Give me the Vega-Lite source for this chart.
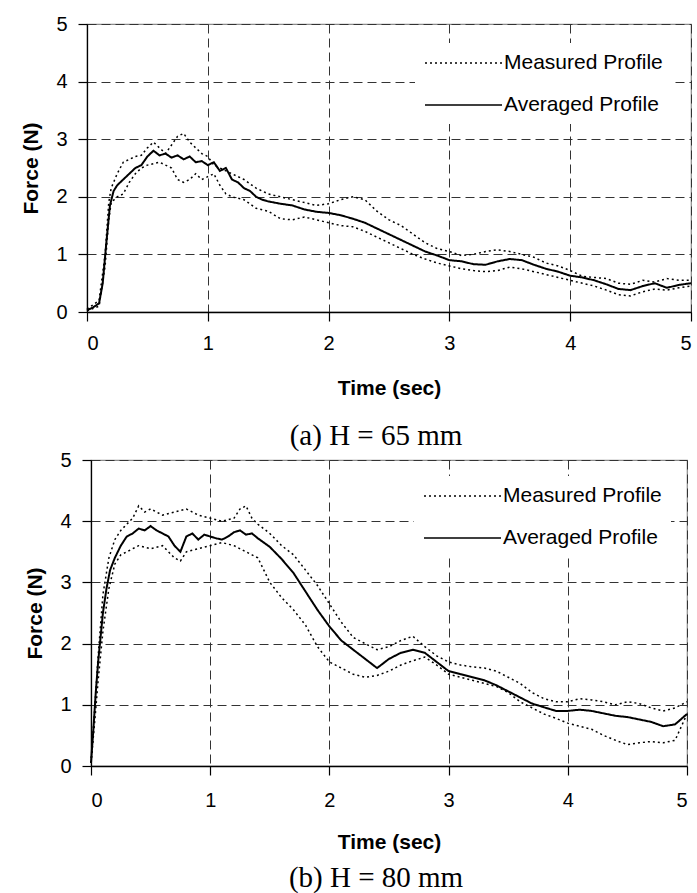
{
  "$schema": "https://vega.github.io/schema/vega-lite/v6.json",
  "padding": {"left": 20, "top": 13, "right": 2, "bottom": 0},
  "background": "white",
  "bounds": "flush",
  "center": true,
  "spacing": 148,
  "config": {
    "font": "Liberation Sans",
    "view": {"stroke": "#8c8c8c", "strokeWidth": 1.2},
    "axis": {
      "domainColor": "#000", "domainWidth": 1.3, "tickColor": "#000", "tickSize": 9, "tickWidth": 1.2,
      "labelFontSize": 20, "labelColor": "#000", "labelPadding": 11,
      "titleFontSize": 21, "titleFontWeight": "bold", "titleColor": "#000",
      "grid": true, "gridColor": "#333", "gridDash": [9, 5], "gridWidth": 1, "gridOpacity": 1
    },
    "legend": {
      "orient": "top-right", "fillColor": "white", "padding": 9,
      "symbolType": "M-1,0H6.7", "symbolSize": 400, "symbolStrokeColor": "#000", "symbolStrokeWidth": 1.6,
      "labelFontSize": 21, "labelColor": "#000", "labelOffset": 58, "rowPadding": 21, "title": null
    }
  },
  "resolve": {"legend": {"strokeDash": "independent"}},
  "datasets": {
    "a": [
      {"s":"Averaged Profile","r":"avg","t":0,"f":0.03},{"s":"Averaged Profile","r":"avg","t":0.05,"f":0.08},{"s":"Averaged Profile","r":"avg","t":0.1,"f":0.15},{"s":"Averaged Profile","r":"avg","t":0.13,"f":0.5},{"s":"Averaged Profile","r":"avg","t":0.16,"f":1.2},{"s":"Averaged Profile","r":"avg","t":0.19,"f":1.85},{"s":"Averaged Profile","r":"avg","t":0.22,"f":2.1},{"s":"Averaged Profile","r":"avg","t":0.25,"f":2.2},{"s":"Averaged Profile","r":"avg","t":0.3,"f":2.3},{"s":"Averaged Profile","r":"avg","t":0.35,"f":2.4},{"s":"Averaged Profile","r":"avg","t":0.4,"f":2.5},{"s":"Averaged Profile","r":"avg","t":0.45,"f":2.55},{"s":"Averaged Profile","r":"avg","t":0.5,"f":2.7},{"s":"Averaged Profile","r":"avg","t":0.55,"f":2.8},{"s":"Averaged Profile","r":"avg","t":0.6,"f":2.72},{"s":"Averaged Profile","r":"avg","t":0.65,"f":2.75},{"s":"Averaged Profile","r":"avg","t":0.7,"f":2.68},{"s":"Averaged Profile","r":"avg","t":0.75,"f":2.72},{"s":"Averaged Profile","r":"avg","t":0.8,"f":2.65},{"s":"Averaged Profile","r":"avg","t":0.85,"f":2.7},{"s":"Averaged Profile","r":"avg","t":0.9,"f":2.6},{"s":"Averaged Profile","r":"avg","t":0.95,"f":2.62},{"s":"Averaged Profile","r":"avg","t":1.0,"f":2.55},{"s":"Averaged Profile","r":"avg","t":1.05,"f":2.6},{"s":"Averaged Profile","r":"avg","t":1.1,"f":2.45},{"s":"Averaged Profile","r":"avg","t":1.15,"f":2.5},{"s":"Averaged Profile","r":"avg","t":1.2,"f":2.3},{"s":"Averaged Profile","r":"avg","t":1.25,"f":2.25},{"s":"Averaged Profile","r":"avg","t":1.3,"f":2.15},{"s":"Averaged Profile","r":"avg","t":1.35,"f":2.1},{"s":"Averaged Profile","r":"avg","t":1.4,"f":2.0},{"s":"Averaged Profile","r":"avg","t":1.45,"f":1.95},{"s":"Averaged Profile","r":"avg","t":1.5,"f":1.92},{"s":"Averaged Profile","r":"avg","t":1.6,"f":1.88},{"s":"Averaged Profile","r":"avg","t":1.7,"f":1.85},{"s":"Averaged Profile","r":"avg","t":1.8,"f":1.78},{"s":"Averaged Profile","r":"avg","t":1.9,"f":1.74},{"s":"Averaged Profile","r":"avg","t":2.0,"f":1.72},{"s":"Averaged Profile","r":"avg","t":2.1,"f":1.68},{"s":"Averaged Profile","r":"avg","t":2.2,"f":1.62},{"s":"Averaged Profile","r":"avg","t":2.3,"f":1.55},{"s":"Averaged Profile","r":"avg","t":2.4,"f":1.45},{"s":"Averaged Profile","r":"avg","t":2.5,"f":1.35},{"s":"Averaged Profile","r":"avg","t":2.6,"f":1.25},{"s":"Averaged Profile","r":"avg","t":2.7,"f":1.15},{"s":"Averaged Profile","r":"avg","t":2.8,"f":1.05},{"s":"Averaged Profile","r":"avg","t":2.9,"f":0.98},{"s":"Averaged Profile","r":"avg","t":3.0,"f":0.9},{"s":"Averaged Profile","r":"avg","t":3.1,"f":0.88},{"s":"Averaged Profile","r":"avg","t":3.2,"f":0.83},{"s":"Averaged Profile","r":"avg","t":3.3,"f":0.82},{"s":"Averaged Profile","r":"avg","t":3.4,"f":0.88},{"s":"Averaged Profile","r":"avg","t":3.5,"f":0.92},{"s":"Averaged Profile","r":"avg","t":3.6,"f":0.9},{"s":"Averaged Profile","r":"avg","t":3.7,"f":0.82},{"s":"Averaged Profile","r":"avg","t":3.8,"f":0.75},{"s":"Averaged Profile","r":"avg","t":3.9,"f":0.7},{"s":"Averaged Profile","r":"avg","t":4.0,"f":0.63},{"s":"Averaged Profile","r":"avg","t":4.1,"f":0.6},{"s":"Averaged Profile","r":"avg","t":4.2,"f":0.55},{"s":"Averaged Profile","r":"avg","t":4.3,"f":0.48},{"s":"Averaged Profile","r":"avg","t":4.4,"f":0.4},{"s":"Averaged Profile","r":"avg","t":4.5,"f":0.38},{"s":"Averaged Profile","r":"avg","t":4.6,"f":0.45},{"s":"Averaged Profile","r":"avg","t":4.7,"f":0.5},{"s":"Averaged Profile","r":"avg","t":4.8,"f":0.42},{"s":"Averaged Profile","r":"avg","t":4.9,"f":0.47},{"s":"Averaged Profile","r":"avg","t":5.0,"f":0.5},
      {"s":"Measured Profile","r":"m1","t":0,"f":0.05},{"s":"Measured Profile","r":"m1","t":0.1,"f":0.2},{"s":"Measured Profile","r":"m1","t":0.15,"f":1.0},{"s":"Measured Profile","r":"m1","t":0.18,"f":1.9},{"s":"Measured Profile","r":"m1","t":0.2,"f":2.15},{"s":"Measured Profile","r":"m1","t":0.25,"f":2.4},{"s":"Measured Profile","r":"m1","t":0.3,"f":2.6},{"s":"Measured Profile","r":"m1","t":0.35,"f":2.65},{"s":"Measured Profile","r":"m1","t":0.4,"f":2.7},{"s":"Measured Profile","r":"m1","t":0.45,"f":2.72},{"s":"Measured Profile","r":"m1","t":0.5,"f":2.85},{"s":"Measured Profile","r":"m1","t":0.55,"f":2.95},{"s":"Measured Profile","r":"m1","t":0.6,"f":2.85},{"s":"Measured Profile","r":"m1","t":0.65,"f":2.75},{"s":"Measured Profile","r":"m1","t":0.7,"f":2.9},{"s":"Measured Profile","r":"m1","t":0.75,"f":3.05},{"s":"Measured Profile","r":"m1","t":0.8,"f":3.1},{"s":"Measured Profile","r":"m1","t":0.85,"f":2.95},{"s":"Measured Profile","r":"m1","t":0.9,"f":2.85},{"s":"Measured Profile","r":"m1","t":0.95,"f":2.75},{"s":"Measured Profile","r":"m1","t":1.0,"f":2.7},{"s":"Measured Profile","r":"m1","t":1.05,"f":2.55},{"s":"Measured Profile","r":"m1","t":1.1,"f":2.5},{"s":"Measured Profile","r":"m1","t":1.2,"f":2.4},{"s":"Measured Profile","r":"m1","t":1.3,"f":2.3},{"s":"Measured Profile","r":"m1","t":1.4,"f":2.15},{"s":"Measured Profile","r":"m1","t":1.5,"f":2.05},{"s":"Measured Profile","r":"m1","t":1.6,"f":2.0},{"s":"Measured Profile","r":"m1","t":1.7,"f":1.95},{"s":"Measured Profile","r":"m1","t":1.8,"f":1.9},{"s":"Measured Profile","r":"m1","t":1.9,"f":1.85},{"s":"Measured Profile","r":"m1","t":2.0,"f":1.88},{"s":"Measured Profile","r":"m1","t":2.1,"f":1.95},{"s":"Measured Profile","r":"m1","t":2.2,"f":2.0},{"s":"Measured Profile","r":"m1","t":2.3,"f":1.95},{"s":"Measured Profile","r":"m1","t":2.4,"f":1.75},{"s":"Measured Profile","r":"m1","t":2.5,"f":1.6},{"s":"Measured Profile","r":"m1","t":2.6,"f":1.5},{"s":"Measured Profile","r":"m1","t":2.7,"f":1.35},{"s":"Measured Profile","r":"m1","t":2.8,"f":1.2},{"s":"Measured Profile","r":"m1","t":2.9,"f":1.1},{"s":"Measured Profile","r":"m1","t":3.0,"f":1.05},{"s":"Measured Profile","r":"m1","t":3.1,"f":0.98},{"s":"Measured Profile","r":"m1","t":3.2,"f":1.0},{"s":"Measured Profile","r":"m1","t":3.3,"f":1.05},{"s":"Measured Profile","r":"m1","t":3.4,"f":1.08},{"s":"Measured Profile","r":"m1","t":3.5,"f":1.05},{"s":"Measured Profile","r":"m1","t":3.6,"f":1.0},{"s":"Measured Profile","r":"m1","t":3.7,"f":0.95},{"s":"Measured Profile","r":"m1","t":3.8,"f":0.85},{"s":"Measured Profile","r":"m1","t":3.9,"f":0.8},{"s":"Measured Profile","r":"m1","t":4.0,"f":0.72},{"s":"Measured Profile","r":"m1","t":4.1,"f":0.62},{"s":"Measured Profile","r":"m1","t":4.2,"f":0.6},{"s":"Measured Profile","r":"m1","t":4.3,"f":0.58},{"s":"Measured Profile","r":"m1","t":4.4,"f":0.5},{"s":"Measured Profile","r":"m1","t":4.5,"f":0.48},{"s":"Measured Profile","r":"m1","t":4.6,"f":0.55},{"s":"Measured Profile","r":"m1","t":4.7,"f":0.52},{"s":"Measured Profile","r":"m1","t":4.8,"f":0.58},{"s":"Measured Profile","r":"m1","t":4.9,"f":0.55},{"s":"Measured Profile","r":"m1","t":5.0,"f":0.55},
      {"s":"Measured Profile","r":"m2","t":0,"f":0.02},{"s":"Measured Profile","r":"m2","t":0.1,"f":0.1},{"s":"Measured Profile","r":"m2","t":0.15,"f":0.8},{"s":"Measured Profile","r":"m2","t":0.18,"f":1.6},{"s":"Measured Profile","r":"m2","t":0.2,"f":1.9},{"s":"Measured Profile","r":"m2","t":0.25,"f":2.0},{"s":"Measured Profile","r":"m2","t":0.3,"f":2.05},{"s":"Measured Profile","r":"m2","t":0.35,"f":2.25},{"s":"Measured Profile","r":"m2","t":0.4,"f":2.4},{"s":"Measured Profile","r":"m2","t":0.45,"f":2.5},{"s":"Measured Profile","r":"m2","t":0.5,"f":2.55},{"s":"Measured Profile","r":"m2","t":0.6,"f":2.6},{"s":"Measured Profile","r":"m2","t":0.7,"f":2.5},{"s":"Measured Profile","r":"m2","t":0.75,"f":2.3},{"s":"Measured Profile","r":"m2","t":0.8,"f":2.25},{"s":"Measured Profile","r":"m2","t":0.85,"f":2.3},{"s":"Measured Profile","r":"m2","t":0.9,"f":2.4},{"s":"Measured Profile","r":"m2","t":0.95,"f":2.3},{"s":"Measured Profile","r":"m2","t":1.0,"f":2.35},{"s":"Measured Profile","r":"m2","t":1.05,"f":2.4},{"s":"Measured Profile","r":"m2","t":1.1,"f":2.2},{"s":"Measured Profile","r":"m2","t":1.15,"f":2.05},{"s":"Measured Profile","r":"m2","t":1.2,"f":2.0},{"s":"Measured Profile","r":"m2","t":1.3,"f":1.95},{"s":"Measured Profile","r":"m2","t":1.4,"f":1.8},{"s":"Measured Profile","r":"m2","t":1.5,"f":1.75},{"s":"Measured Profile","r":"m2","t":1.6,"f":1.62},{"s":"Measured Profile","r":"m2","t":1.7,"f":1.6},{"s":"Measured Profile","r":"m2","t":1.8,"f":1.65},{"s":"Measured Profile","r":"m2","t":1.9,"f":1.6},{"s":"Measured Profile","r":"m2","t":2.0,"f":1.55},{"s":"Measured Profile","r":"m2","t":2.1,"f":1.5},{"s":"Measured Profile","r":"m2","t":2.2,"f":1.48},{"s":"Measured Profile","r":"m2","t":2.3,"f":1.4},{"s":"Measured Profile","r":"m2","t":2.4,"f":1.3},{"s":"Measured Profile","r":"m2","t":2.5,"f":1.2},{"s":"Measured Profile","r":"m2","t":2.6,"f":1.1},{"s":"Measured Profile","r":"m2","t":2.7,"f":1.0},{"s":"Measured Profile","r":"m2","t":2.8,"f":0.92},{"s":"Measured Profile","r":"m2","t":2.9,"f":0.85},{"s":"Measured Profile","r":"m2","t":3.0,"f":0.8},{"s":"Measured Profile","r":"m2","t":3.1,"f":0.75},{"s":"Measured Profile","r":"m2","t":3.2,"f":0.72},{"s":"Measured Profile","r":"m2","t":3.3,"f":0.7},{"s":"Measured Profile","r":"m2","t":3.4,"f":0.72},{"s":"Measured Profile","r":"m2","t":3.5,"f":0.78},{"s":"Measured Profile","r":"m2","t":3.6,"f":0.75},{"s":"Measured Profile","r":"m2","t":3.7,"f":0.7},{"s":"Measured Profile","r":"m2","t":3.8,"f":0.65},{"s":"Measured Profile","r":"m2","t":3.9,"f":0.6},{"s":"Measured Profile","r":"m2","t":4.0,"f":0.55},{"s":"Measured Profile","r":"m2","t":4.1,"f":0.5},{"s":"Measured Profile","r":"m2","t":4.2,"f":0.45},{"s":"Measured Profile","r":"m2","t":4.3,"f":0.38},{"s":"Measured Profile","r":"m2","t":4.4,"f":0.3},{"s":"Measured Profile","r":"m2","t":4.5,"f":0.28},{"s":"Measured Profile","r":"m2","t":4.6,"f":0.35},{"s":"Measured Profile","r":"m2","t":4.7,"f":0.4},{"s":"Measured Profile","r":"m2","t":4.8,"f":0.38},{"s":"Measured Profile","r":"m2","t":4.9,"f":0.42},{"s":"Measured Profile","r":"m2","t":5.0,"f":0.45}
    ],
    "b": [
      {"s":"Averaged Profile","r":"avg","t":0,"f":0.05},{"s":"Averaged Profile","r":"avg","t":0.02,"f":0.6},{"s":"Averaged Profile","r":"avg","t":0.04,"f":1.2},{"s":"Averaged Profile","r":"avg","t":0.06,"f":1.7},{"s":"Averaged Profile","r":"avg","t":0.08,"f":2.1},{"s":"Averaged Profile","r":"avg","t":0.1,"f":2.5},{"s":"Averaged Profile","r":"avg","t":0.13,"f":2.9},{"s":"Averaged Profile","r":"avg","t":0.16,"f":3.2},{"s":"Averaged Profile","r":"avg","t":0.2,"f":3.4},{"s":"Averaged Profile","r":"avg","t":0.25,"f":3.6},{"s":"Averaged Profile","r":"avg","t":0.3,"f":3.75},{"s":"Averaged Profile","r":"avg","t":0.35,"f":3.8},{"s":"Averaged Profile","r":"avg","t":0.4,"f":3.88},{"s":"Averaged Profile","r":"avg","t":0.45,"f":3.85},{"s":"Averaged Profile","r":"avg","t":0.5,"f":3.92},{"s":"Averaged Profile","r":"avg","t":0.55,"f":3.85},{"s":"Averaged Profile","r":"avg","t":0.6,"f":3.8},{"s":"Averaged Profile","r":"avg","t":0.65,"f":3.75},{"s":"Averaged Profile","r":"avg","t":0.7,"f":3.6},{"s":"Averaged Profile","r":"avg","t":0.75,"f":3.5},{"s":"Averaged Profile","r":"avg","t":0.8,"f":3.75},{"s":"Averaged Profile","r":"avg","t":0.85,"f":3.8},{"s":"Averaged Profile","r":"avg","t":0.9,"f":3.7},{"s":"Averaged Profile","r":"avg","t":0.95,"f":3.78},{"s":"Averaged Profile","r":"avg","t":1.0,"f":3.75},{"s":"Averaged Profile","r":"avg","t":1.05,"f":3.72},{"s":"Averaged Profile","r":"avg","t":1.1,"f":3.7},{"s":"Averaged Profile","r":"avg","t":1.15,"f":3.75},{"s":"Averaged Profile","r":"avg","t":1.2,"f":3.82},{"s":"Averaged Profile","r":"avg","t":1.25,"f":3.85},{"s":"Averaged Profile","r":"avg","t":1.3,"f":3.78},{"s":"Averaged Profile","r":"avg","t":1.35,"f":3.8},{"s":"Averaged Profile","r":"avg","t":1.4,"f":3.72},{"s":"Averaged Profile","r":"avg","t":1.5,"f":3.58},{"s":"Averaged Profile","r":"avg","t":1.6,"f":3.38},{"s":"Averaged Profile","r":"avg","t":1.7,"f":3.15},{"s":"Averaged Profile","r":"avg","t":1.8,"f":2.85},{"s":"Averaged Profile","r":"avg","t":1.9,"f":2.55},{"s":"Averaged Profile","r":"avg","t":2.0,"f":2.28},{"s":"Averaged Profile","r":"avg","t":2.1,"f":2.05},{"s":"Averaged Profile","r":"avg","t":2.2,"f":1.9},{"s":"Averaged Profile","r":"avg","t":2.3,"f":1.75},{"s":"Averaged Profile","r":"avg","t":2.4,"f":1.6},{"s":"Averaged Profile","r":"avg","t":2.5,"f":1.75},{"s":"Averaged Profile","r":"avg","t":2.6,"f":1.85},{"s":"Averaged Profile","r":"avg","t":2.7,"f":1.9},{"s":"Averaged Profile","r":"avg","t":2.8,"f":1.85},{"s":"Averaged Profile","r":"avg","t":2.9,"f":1.7},{"s":"Averaged Profile","r":"avg","t":3.0,"f":1.55},{"s":"Averaged Profile","r":"avg","t":3.1,"f":1.5},{"s":"Averaged Profile","r":"avg","t":3.2,"f":1.45},{"s":"Averaged Profile","r":"avg","t":3.3,"f":1.4},{"s":"Averaged Profile","r":"avg","t":3.4,"f":1.32},{"s":"Averaged Profile","r":"avg","t":3.5,"f":1.22},{"s":"Averaged Profile","r":"avg","t":3.6,"f":1.12},{"s":"Averaged Profile","r":"avg","t":3.7,"f":1.02},{"s":"Averaged Profile","r":"avg","t":3.8,"f":0.96},{"s":"Averaged Profile","r":"avg","t":3.9,"f":0.9},{"s":"Averaged Profile","r":"avg","t":4.0,"f":0.9},{"s":"Averaged Profile","r":"avg","t":4.1,"f":0.92},{"s":"Averaged Profile","r":"avg","t":4.2,"f":0.9},{"s":"Averaged Profile","r":"avg","t":4.3,"f":0.86},{"s":"Averaged Profile","r":"avg","t":4.4,"f":0.82},{"s":"Averaged Profile","r":"avg","t":4.5,"f":0.8},{"s":"Averaged Profile","r":"avg","t":4.6,"f":0.76},{"s":"Averaged Profile","r":"avg","t":4.7,"f":0.72},{"s":"Averaged Profile","r":"avg","t":4.8,"f":0.65},{"s":"Averaged Profile","r":"avg","t":4.9,"f":0.68},{"s":"Averaged Profile","r":"avg","t":5.0,"f":0.85},
      {"s":"Measured Profile","r":"m1","t":0,"f":0.05},{"s":"Measured Profile","r":"m1","t":0.03,"f":0.9},{"s":"Measured Profile","r":"m1","t":0.06,"f":1.8},{"s":"Measured Profile","r":"m1","t":0.1,"f":2.8},{"s":"Measured Profile","r":"m1","t":0.15,"f":3.4},{"s":"Measured Profile","r":"m1","t":0.2,"f":3.7},{"s":"Measured Profile","r":"m1","t":0.25,"f":3.85},{"s":"Measured Profile","r":"m1","t":0.3,"f":3.95},{"s":"Measured Profile","r":"m1","t":0.35,"f":4.05},{"s":"Measured Profile","r":"m1","t":0.4,"f":4.25},{"s":"Measured Profile","r":"m1","t":0.45,"f":4.15},{"s":"Measured Profile","r":"m1","t":0.5,"f":4.2},{"s":"Measured Profile","r":"m1","t":0.6,"f":4.1},{"s":"Measured Profile","r":"m1","t":0.7,"f":4.15},{"s":"Measured Profile","r":"m1","t":0.8,"f":4.2},{"s":"Measured Profile","r":"m1","t":0.9,"f":4.1},{"s":"Measured Profile","r":"m1","t":1.0,"f":4.05},{"s":"Measured Profile","r":"m1","t":1.1,"f":4.0},{"s":"Measured Profile","r":"m1","t":1.2,"f":4.05},{"s":"Measured Profile","r":"m1","t":1.25,"f":4.2},{"s":"Measured Profile","r":"m1","t":1.3,"f":4.25},{"s":"Measured Profile","r":"m1","t":1.35,"f":4.05},{"s":"Measured Profile","r":"m1","t":1.4,"f":3.95},{"s":"Measured Profile","r":"m1","t":1.5,"f":3.8},{"s":"Measured Profile","r":"m1","t":1.6,"f":3.6},{"s":"Measured Profile","r":"m1","t":1.7,"f":3.45},{"s":"Measured Profile","r":"m1","t":1.8,"f":3.2},{"s":"Measured Profile","r":"m1","t":1.9,"f":2.95},{"s":"Measured Profile","r":"m1","t":2.0,"f":2.65},{"s":"Measured Profile","r":"m1","t":2.1,"f":2.35},{"s":"Measured Profile","r":"m1","t":2.2,"f":2.1},{"s":"Measured Profile","r":"m1","t":2.3,"f":2.0},{"s":"Measured Profile","r":"m1","t":2.4,"f":1.9},{"s":"Measured Profile","r":"m1","t":2.5,"f":1.95},{"s":"Measured Profile","r":"m1","t":2.6,"f":2.05},{"s":"Measured Profile","r":"m1","t":2.7,"f":2.12},{"s":"Measured Profile","r":"m1","t":2.8,"f":1.95},{"s":"Measured Profile","r":"m1","t":2.9,"f":1.8},{"s":"Measured Profile","r":"m1","t":3.0,"f":1.7},{"s":"Measured Profile","r":"m1","t":3.1,"f":1.65},{"s":"Measured Profile","r":"m1","t":3.2,"f":1.62},{"s":"Measured Profile","r":"m1","t":3.3,"f":1.6},{"s":"Measured Profile","r":"m1","t":3.4,"f":1.55},{"s":"Measured Profile","r":"m1","t":3.5,"f":1.45},{"s":"Measured Profile","r":"m1","t":3.6,"f":1.35},{"s":"Measured Profile","r":"m1","t":3.7,"f":1.2},{"s":"Measured Profile","r":"m1","t":3.8,"f":1.1},{"s":"Measured Profile","r":"m1","t":3.9,"f":1.05},{"s":"Measured Profile","r":"m1","t":4.0,"f":1.05},{"s":"Measured Profile","r":"m1","t":4.1,"f":1.1},{"s":"Measured Profile","r":"m1","t":4.2,"f":1.08},{"s":"Measured Profile","r":"m1","t":4.3,"f":1.05},{"s":"Measured Profile","r":"m1","t":4.4,"f":1.0},{"s":"Measured Profile","r":"m1","t":4.5,"f":1.05},{"s":"Measured Profile","r":"m1","t":4.6,"f":1.02},{"s":"Measured Profile","r":"m1","t":4.7,"f":0.95},{"s":"Measured Profile","r":"m1","t":4.8,"f":0.9},{"s":"Measured Profile","r":"m1","t":4.9,"f":0.95},{"s":"Measured Profile","r":"m1","t":5.0,"f":1.05},
      {"s":"Measured Profile","r":"m2","t":0,"f":0.05},{"s":"Measured Profile","r":"m2","t":0.03,"f":0.7},{"s":"Measured Profile","r":"m2","t":0.06,"f":1.4},{"s":"Measured Profile","r":"m2","t":0.1,"f":2.2},{"s":"Measured Profile","r":"m2","t":0.15,"f":2.9},{"s":"Measured Profile","r":"m2","t":0.2,"f":3.3},{"s":"Measured Profile","r":"m2","t":0.25,"f":3.45},{"s":"Measured Profile","r":"m2","t":0.3,"f":3.5},{"s":"Measured Profile","r":"m2","t":0.35,"f":3.55},{"s":"Measured Profile","r":"m2","t":0.4,"f":3.6},{"s":"Measured Profile","r":"m2","t":0.5,"f":3.55},{"s":"Measured Profile","r":"m2","t":0.6,"f":3.6},{"s":"Measured Profile","r":"m2","t":0.7,"f":3.4},{"s":"Measured Profile","r":"m2","t":0.75,"f":3.35},{"s":"Measured Profile","r":"m2","t":0.8,"f":3.5},{"s":"Measured Profile","r":"m2","t":0.9,"f":3.55},{"s":"Measured Profile","r":"m2","t":1.0,"f":3.6},{"s":"Measured Profile","r":"m2","t":1.1,"f":3.65},{"s":"Measured Profile","r":"m2","t":1.2,"f":3.6},{"s":"Measured Profile","r":"m2","t":1.3,"f":3.5},{"s":"Measured Profile","r":"m2","t":1.35,"f":3.45},{"s":"Measured Profile","r":"m2","t":1.4,"f":3.4},{"s":"Measured Profile","r":"m2","t":1.5,"f":3.0},{"s":"Measured Profile","r":"m2","t":1.6,"f":2.75},{"s":"Measured Profile","r":"m2","t":1.7,"f":2.55},{"s":"Measured Profile","r":"m2","t":1.8,"f":2.3},{"s":"Measured Profile","r":"m2","t":1.9,"f":1.95},{"s":"Measured Profile","r":"m2","t":2.0,"f":1.7},{"s":"Measured Profile","r":"m2","t":2.1,"f":1.6},{"s":"Measured Profile","r":"m2","t":2.2,"f":1.5},{"s":"Measured Profile","r":"m2","t":2.3,"f":1.45},{"s":"Measured Profile","r":"m2","t":2.4,"f":1.48},{"s":"Measured Profile","r":"m2","t":2.5,"f":1.55},{"s":"Measured Profile","r":"m2","t":2.6,"f":1.65},{"s":"Measured Profile","r":"m2","t":2.7,"f":1.72},{"s":"Measured Profile","r":"m2","t":2.8,"f":1.78},{"s":"Measured Profile","r":"m2","t":2.9,"f":1.65},{"s":"Measured Profile","r":"m2","t":3.0,"f":1.5},{"s":"Measured Profile","r":"m2","t":3.1,"f":1.45},{"s":"Measured Profile","r":"m2","t":3.2,"f":1.4},{"s":"Measured Profile","r":"m2","t":3.3,"f":1.35},{"s":"Measured Profile","r":"m2","t":3.4,"f":1.3},{"s":"Measured Profile","r":"m2","t":3.5,"f":1.2},{"s":"Measured Profile","r":"m2","t":3.6,"f":1.05},{"s":"Measured Profile","r":"m2","t":3.7,"f":0.95},{"s":"Measured Profile","r":"m2","t":3.8,"f":0.85},{"s":"Measured Profile","r":"m2","t":3.9,"f":0.78},{"s":"Measured Profile","r":"m2","t":4.0,"f":0.7},{"s":"Measured Profile","r":"m2","t":4.1,"f":0.65},{"s":"Measured Profile","r":"m2","t":4.2,"f":0.6},{"s":"Measured Profile","r":"m2","t":4.3,"f":0.5},{"s":"Measured Profile","r":"m2","t":4.4,"f":0.42},{"s":"Measured Profile","r":"m2","t":4.5,"f":0.35},{"s":"Measured Profile","r":"m2","t":4.6,"f":0.38},{"s":"Measured Profile","r":"m2","t":4.7,"f":0.4},{"s":"Measured Profile","r":"m2","t":4.8,"f":0.38},{"s":"Measured Profile","r":"m2","t":4.9,"f":0.42},{"s":"Measured Profile","r":"m2","t":5.0,"f":0.85}
    ]
  },
  "vconcat": [
    {
      "width": 604, "height": 288,
      "data": {"name": "a"},
      "title": {"text": "(a) H = 65 mm", "orient": "bottom", "font": "Liberation Serif", "fontSize": 29, "fontWeight": "normal", "color": "#000", "anchor": "middle", "frame": "group", "offset": 24, "dx": -13},
      "mark": {"type": "line", "color": "#000"},
      "encoding": {
        "x": {"field": "t", "type": "quantitative", "scale": {"domain": [0, 5], "nice": false}, "axis": {"title": "Time (sec)", "values": [0, 1, 2, 3, 4, 5], "labelPadding": 12, "titlePadding": 24}},
        "y": {"field": "f", "type": "quantitative", "scale": {"domain": [0, 5], "nice": false}, "axis": {"title": "Force (N)", "values": [0, 1, 2, 3, 4, 5], "titlePadding": 14}},
        "detail": {"field": "r", "type": "nominal"},
        "strokeWidth": {"field": "s", "type": "nominal", "scale": {"domain": ["Measured Profile", "Averaged Profile"], "range": [1.5, 2]}, "legend": null},
        "strokeDash": {"field": "s", "type": "nominal", "scale": {"domain": ["Measured Profile", "Averaged Profile"], "range": [[2, 3], [1, 0]]}, "legend": {"offset": 19}}
      }
    },
    {
      "width": 596, "height": 306,
      "data": {"name": "b"},
      "title": {"text": "(b) H = 80 mm", "orient": "bottom", "font": "Liberation Serif", "fontSize": 29, "fontWeight": "normal", "color": "#000", "anchor": "middle", "frame": "group", "offset": 12, "dx": -13},
      "mark": {"type": "line", "color": "#000"},
      "encoding": {
        "x": {"field": "t", "type": "quantitative", "scale": {"domain": [0, 5], "nice": false}, "axis": {"title": "Time (sec)", "values": [0, 1, 2, 3, 4, 5], "labelPadding": 15, "titlePadding": 21}},
        "y": {"field": "f", "type": "quantitative", "scale": {"domain": [0, 5], "nice": false}, "axis": {"title": "Force (N)", "values": [0, 1, 2, 3, 4, 5], "titlePadding": 14}},
        "detail": {"field": "r", "type": "nominal"},
        "strokeWidth": {"field": "s", "type": "nominal", "scale": {"domain": ["Measured Profile", "Averaged Profile"], "range": [1.5, 2]}, "legend": null},
        "strokeDash": {"field": "s", "type": "nominal", "scale": {"domain": ["Measured Profile", "Averaged Profile"], "range": [[2, 3], [1, 0]]}, "legend": {"offset": 16}}
      }
    }
  ]
}
